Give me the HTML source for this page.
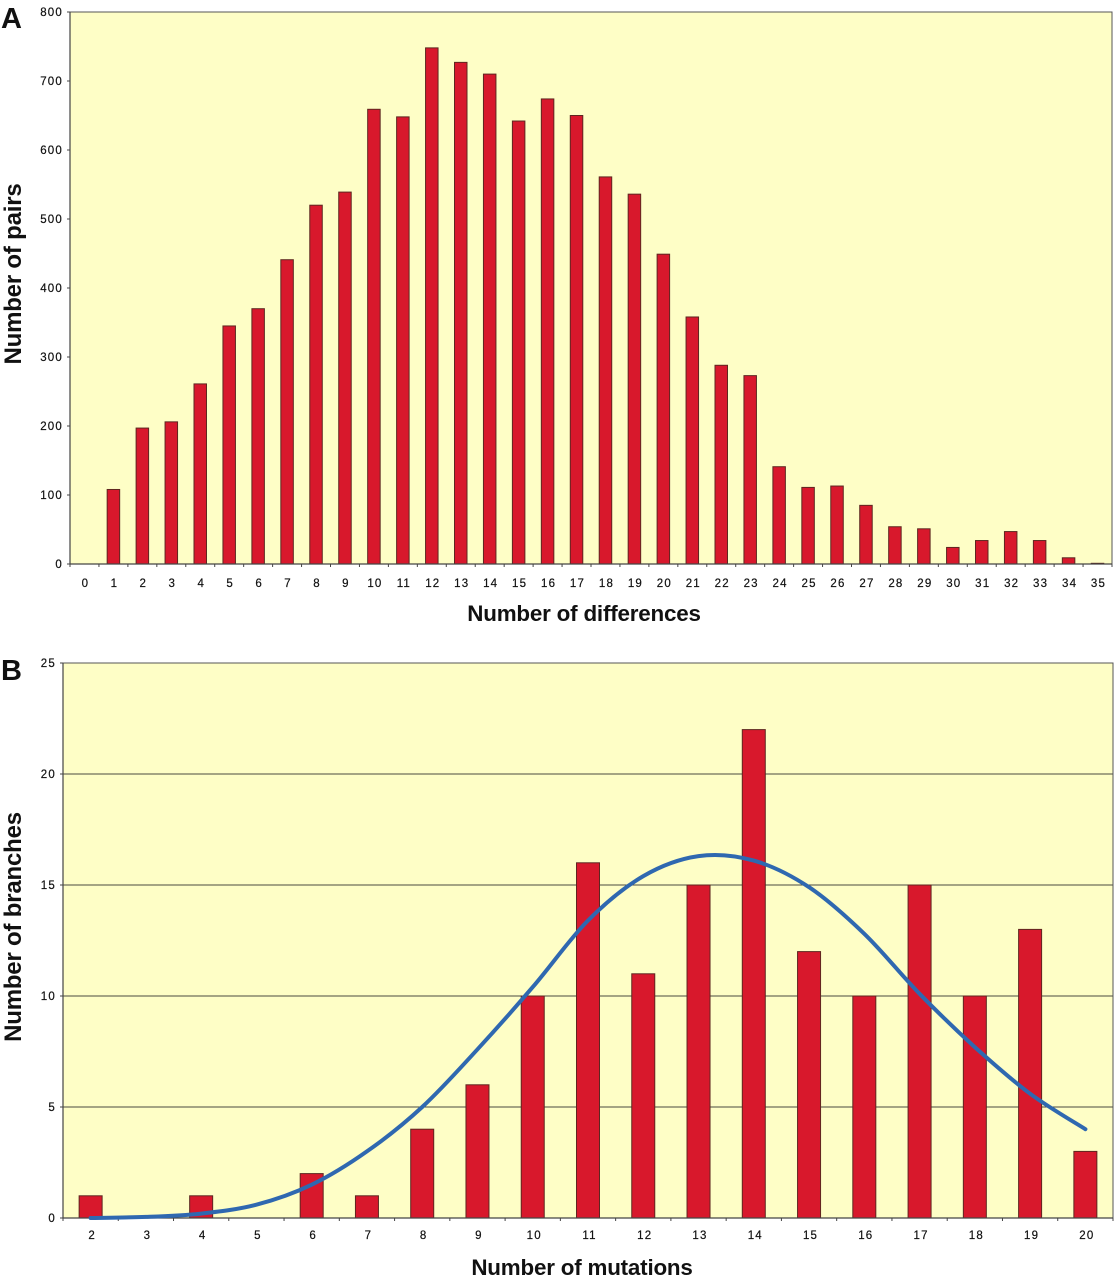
<!DOCTYPE html>
<html>
<head>
<meta charset="utf-8">
<title>Distribution charts</title>
<style>
html,body{margin:0;padding:0;background:#fff;}
svg{display:block;}
text{font-family:"Liberation Sans",sans-serif;fill:#111;}
.tick{font-size:11.5px;letter-spacing:1.2px;stroke:#111;stroke-width:.2px;}
.title{font-weight:bold;letter-spacing:-.2px;}
.panel{font-size:29px;font-weight:bold;}
</style>
</head>
<body>
<svg id="fig" width="1118" height="1280" viewBox="0 0 1118 1280" xmlns="http://www.w3.org/2000/svg"></svg>
<script>
const catsA = [0,1,2,3,4,5,6,7,8,9,10,11,12,13,14,15,16,17,18,19,20,21,22,23,24,25,26,27,28,29,30,31,32,33,34,35];
const valsA = [0,108,197,206,261,345,370,441,520,539,659,648,748,727,710,642,674,650,561,536,449,358,288,273,141,111,113,85,54,51,24,34,47,34,9,1];
const ticksA = [0,100,200,300,400,500,600,700,800];
const catsB = [2,3,4,5,6,7,8,9,10,11,12,13,14,15,16,17,18,19,20];
const valsB = [1,0,1,0,2,1,4,6,10,16,11,15,22,12,10,15,10,13,3];
const curveB = [0,0.05,0.2,0.6,1.5,3,5,7.6,10.4,13.4,15.4,16.3,16.1,14.9,12.8,10.1,7.7,5.6,4];
const ticksB = [0,5,10,15,20,25];

const NS = 'http://www.w3.org/2000/svg';
const fig = document.getElementById('fig');
function mk(tag, attrs, parent, txt) {
  const e = document.createElementNS(NS, tag);
  for (const k in attrs) e.setAttribute(k, attrs[k]);
  if (txt !== undefined) e.textContent = txt;
  (parent || fig).appendChild(e);
  return e;
}
function smooth(p) {
  let d = 'M' + p[0][0].toFixed(1) + ' ' + p[0][1].toFixed(1);
  for (let i = 0; i < p.length - 1; i++) {
    const a = p[Math.max(i-1,0)], b = p[i], c = p[i+1], e = p[Math.min(i+2,p.length-1)];
    const c1x = b[0] + (c[0]-a[0])/6, c1y = b[1] + (c[1]-a[1])/6;
    const c2x = c[0] - (e[0]-b[0])/6, c2y = c[1] - (e[1]-b[1])/6;
    d += `C${c1x.toFixed(1)} ${c1y.toFixed(1)} ${c2x.toFixed(1)} ${c2y.toFixed(1)} ${c[0].toFixed(1)} ${c[1].toFixed(1)}`;
  }
  return d;
}
function drawPanel(o) {
  const g = mk('g', {});
  
  
  const xBand = (o.x1 - o.x0) / o.cats.length;
  const xC = i => o.x0 + xBand * (i + 0.5);
  const yS = v => o.y0 + (o.y1 - o.y0) * (v / o.max);

  const plot = mk('rect', {x:o.x0, y:o.y1, width:o.x1-o.x0, height:o.y0-o.y1, fill:'#fefec6'}, g);
  
  

  o.ticks.forEach(t => {
    const y = yS(t);
    if (o.grid && t > 0 && t < o.max) {
      const gl = mk('line', {x1:o.x0, x2:o.x1, y1:y, y2:y, stroke:'#4a4b40', 'stroke-width':1.1}, g);
      
      
    }
    mk('line', {x1:o.x0-3, x2:o.x0, y1:y, y2:y, stroke:'#444', 'stroke-width':1}, g);
    const lb = mk('text', {x:o.x0-7, y:y+4, 'text-anchor':'end', class:'tick'}, g, String(t));
    
    
  });

  o.vals.forEach((v, i) => {
    if (v <= 0) return;
    const b = mk('rect', {x:xC(i)-o.barW/2, y:yS(v), width:o.barW, height:o.y0-yS(v), fill:'#d8182c', stroke:'#5e2620', 'stroke-width':1}, g);
    
    
  });

  const frame = mk('path', {d:`M${o.x0} ${o.y1}H${o.x1}V${o.y0}`, fill:'none', stroke:'#555', 'stroke-width':1}, g);
  
  
  const ax = mk('path', {d:`M${o.x0} ${o.y1}V${o.y0}H${o.x1}`, fill:'none', stroke:'#444', 'stroke-width':1.2}, g);
  
  

  for (let i = 0; i <= o.cats.length; i++) {
    const x = o.x0 + xBand * i;
    mk('line', {x1:x, x2:x, y1:o.y0, y2:o.y0+3, stroke:'#444', 'stroke-width':1}, g);
  }
  o.cats.forEach((c, i) => {
    const lb = mk('text', {x:xC(i)+o.labelDx, y:o.y0+o.labelDy, 'text-anchor':'middle', class:'tick'}, g, String(c));
    
    
  });

  if (o.curve) {
    const ln = mk('path', {d:smooth(o.curve.map((v, i) => [xC(i), yS(v)])), fill:'none', stroke:'#2f68b0', 'stroke-width':4, 'stroke-linecap':'round', 'stroke-linejoin':'round'}, g);
    
    
  }

  const xt = mk('text', {x:o.xTitleX, y:o.xTitleY, 'text-anchor':'middle', class:'title', 'font-size':22.4}, g, o.xTitle);
  
  
  const yt = mk('text', {x:0, y:0, 'text-anchor':'middle', class:'title', 'font-size':24, transform:`translate(${o.yTitleX} ${o.yTitleY}) rotate(-90)`}, g, o.yTitle);
  
  
  const pl = mk('text', {x:1, y:o.panelY, class:'panel'}, g, o.panel);
  
  
}
drawPanel({id:'panel-a', panel:'A', panelY:28, x0:70, x1:1112, y0:564, y1:12, max:800, cats:catsA, vals:valsA, ticks:ticksA, barW:12.5, labelDx:1, labelDy:23, grid:false, xTitle:'Number of differences', xTitleX:584, xTitleY:621, yTitle:'Number of pairs', yTitleX:21, yTitleY:274});
drawPanel({id:'panel-b', panel:'B', panelY:680, x0:63, x1:1113, y0:1218, y1:663, max:25, cats:catsB, vals:valsB, ticks:ticksB, barW:23, labelDx:1.5, labelDy:21, grid:true, curve:curveB, xTitle:'Number of mutations', xTitleX:582, xTitleY:1275, yTitle:'Number of branches', yTitleX:21, yTitleY:927});
</script>
</body>
</html>
